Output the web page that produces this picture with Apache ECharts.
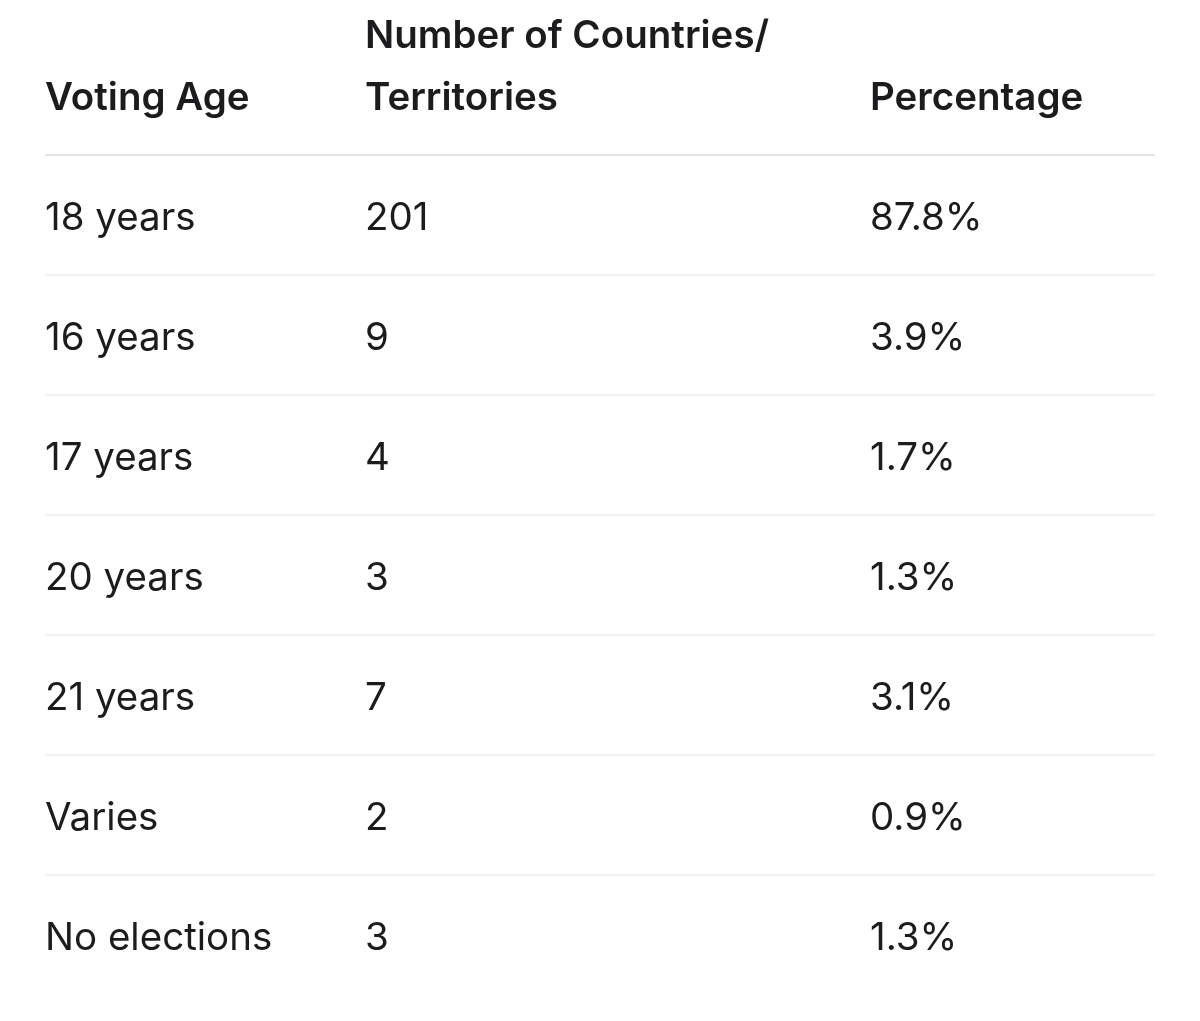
<!DOCTYPE html>
<html><head><meta charset="utf-8">
<script src="https://cdn.jsdelivr.net/npm/echarts@6/dist/echarts.min.js"></script>
<style>html,body{margin:0;padding:0;background:#fff}#c{width:1200px;height:1021px}</style>
</head><body><div id="c"></div>
<script>
const headers = [["Voting Age"], ["Number of Countries/", "Territories"], ["Percentage"]];
const ages = ["18 years", "16 years", "17 years", "20 years", "21 years", "Varies", "No elections"];
const counts = ["201", "9", "4", "3", "7", "2", "3"];
const percents = ["87.8%", "3.9%", "1.7%", "1.3%", "3.1%", "0.9%", "1.3%"];

const colX = [45, 365, 870];
const font = "Inter, 'Noto Sans', sans-serif";
const color = "#1c1c1e";
const g = [];
headers.forEach((h, ci) => {
  const n = h.length;
  h.forEach((line, li) => {
    g.push({type: 'text', x: colX[ci], y: 98 - (n - 1 - li) * 62,
      style: {text: line, font: "600 38.5px " + font, fill: color, textVerticalAlign: 'middle'}});
  });
});
const lineTop = 155, rowH = 120;
g.push({type: 'line', shape: {x1: 45, y1: lineTop, x2: 1155, y2: lineTop}, style: {stroke: '#d8d8d8', lineWidth: 1.5}});
ages.forEach((a, i) => {
  const cy = lineTop + rowH * i + 63;
  [a, counts[i], percents[i]].forEach((t, ci) => {
    g.push({type: 'text', x: colX[ci], y: cy,
      style: {text: t, font: "400 38.5px " + font, fill: color, textVerticalAlign: 'middle'}});
  });
  if (i < ages.length - 1) {
    const ly = lineTop + rowH * (i + 1);
    g.push({type: 'line', shape: {x1: 45, y1: ly, x2: 1155, y2: ly}, style: {stroke: '#e3e3e3', lineWidth: 1.2}});
  }
});
const chart = echarts.init(document.getElementById('c'));
chart.setOption({backgroundColor: '#fff', animation: false, graphic: g});
</script></body></html>
